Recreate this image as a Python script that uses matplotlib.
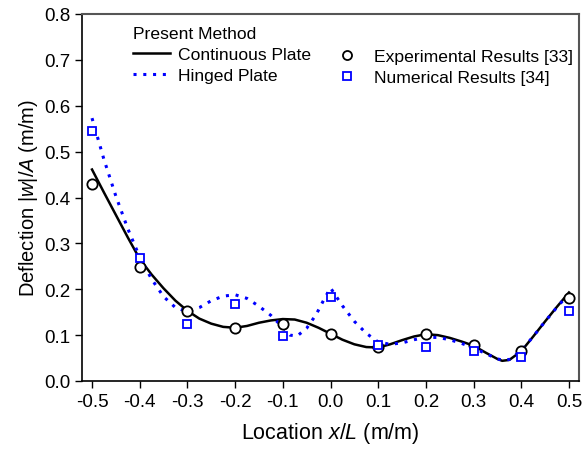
import matplotlib
matplotlib.use("Agg")
import matplotlib.pyplot as plt
from matplotlib.lines import Line2D

plt.rcParams['font.family'] = ['Liberation Sans', 'DejaVu Sans']
plt.rcParams['mathtext.fontset'] = 'custom'
plt.rcParams['mathtext.rm'] = 'Liberation Sans'
plt.rcParams['mathtext.it'] = 'Liberation Sans:italic'

# measured points
x_pts = [-0.5, -0.4, -0.3, -0.2, -0.1, 0.0, 0.1, 0.2, 0.3, 0.4, 0.5]
exp_vals = [0.430, 0.249, 0.153, 0.116, 0.124, 0.102, 0.074, 0.102, 0.078, 0.066, 0.181]
num_vals = [0.545, 0.268, 0.124, 0.168, 0.098, 0.183, 0.078, 0.074, 0.066, 0.052, 0.153]

# present method, continuous plate
cont_x = [-0.50, -0.475, -0.45, -0.425, -0.40, -0.375, -0.35, -0.325, -0.30, -0.275,
          -0.25, -0.225, -0.20, -0.175, -0.15, -0.125, -0.10, -0.075, -0.05, -0.025,
          0.0, 0.025, 0.05, 0.075, 0.10, 0.125, 0.15, 0.175, 0.20, 0.225,
          0.25, 0.275, 0.30, 0.325, 0.35, 0.36, 0.375, 0.40, 0.425, 0.45,
          0.475, 0.50]
cont_y = [0.461, 0.411, 0.362, 0.313, 0.266, 0.232, 0.202, 0.175, 0.153, 0.136,
          0.125, 0.118, 0.116, 0.120, 0.127, 0.132, 0.135, 0.134, 0.127, 0.116,
          0.103, 0.090, 0.080, 0.074, 0.073, 0.080, 0.089, 0.097, 0.102, 0.100,
          0.094, 0.086, 0.077, 0.062, 0.048, 0.044, 0.046, 0.065, 0.097, 0.130,
          0.162, 0.193]

# present method, hinged plate
hing_x = [-0.50, -0.475, -0.45, -0.425, -0.40, -0.375, -0.35, -0.325, -0.30, -0.275,
          -0.25, -0.225, -0.20, -0.175, -0.15, -0.125, -0.10, -0.085, -0.07, -0.05,
          -0.03, -0.015, 0.0, 0.025, 0.05, 0.075, 0.10, 0.125, 0.15, 0.175,
          0.20, 0.225, 0.25, 0.275, 0.30, 0.325, 0.35, 0.365, 0.375, 0.40,
          0.425, 0.45, 0.475, 0.50]
hing_y = [0.573, 0.483, 0.403, 0.332, 0.270, 0.222, 0.184, 0.160, 0.151, 0.160,
          0.175, 0.185, 0.188, 0.180, 0.163, 0.143, 0.117, 0.100, 0.098, 0.115,
          0.145, 0.175, 0.203, 0.164, 0.130, 0.104, 0.085, 0.080, 0.083, 0.090,
          0.095, 0.095, 0.090, 0.082, 0.072, 0.060, 0.048, 0.045, 0.047, 0.066,
          0.097, 0.130, 0.161, 0.190]

xticks = [-0.5, -0.4, -0.3, -0.2, -0.1, 0.0, 0.1, 0.2, 0.3, 0.4, 0.5]
yticks = [0.0, 0.1, 0.2, 0.3, 0.4, 0.5, 0.6, 0.7, 0.8]

blue = '#0000ff'
dots = (0, (1, 2.2))

fig = plt.figure(figsize=(5.84, 4.52), dpi=100)
ax = fig.add_axes([82/584, 1 - 382/452, 497/584, 367/452])

ax.plot(cont_x, cont_y, color='black', lw=1.8, zorder=3)
ax.plot(hing_x, hing_y, color=blue, lw=2.2, linestyle=dots, zorder=3)
ax.plot(x_pts, exp_vals, 'o', ms=7.4, mfc='white', mec='black', mew=1.3, zorder=5)
ax.plot(x_pts, num_vals, 's', ms=6.3, mfc='white', mec=blue, mew=1.3, zorder=5)

ax.set_xlim(-0.521, 0.521)
ax.set_ylim(0, 0.8)
ax.set_xticks(xticks)
ax.set_xticklabels(['%.1f' % v for v in xticks])
ax.set_yticks(yticks)
ax.set_yticklabels(['%.1f' % v for v in yticks])
ax.tick_params(direction='out', length=5, width=1, labelsize=13.5, color='black')
ax.tick_params(axis='x', pad=4)

for s in ['left', 'bottom']:
    ax.spines[s].set_color('black')
    ax.spines[s].set_linewidth(1.2)
for s in ['top', 'right']:
    ax.spines[s].set_color('#555555')
    ax.spines[s].set_linewidth(1.5)

ax.set_xlabel(r'Location $x/L$ (m/m)', fontsize=15.5, labelpad=7)
ax.set_ylabel(r'Deflection $|w|/A$ (m/m)', fontsize=14.5, labelpad=3)

h1 = [Line2D([], [], color='black', lw=1.8),
      Line2D([], [], color=blue, lw=2.2, linestyle=dots)]
leg1 = ax.legend(h1, ['Continuous Plate', 'Hinged Plate'], title='Present Method',
                 loc='upper left', bbox_to_anchor=(0.1026, 0.967), frameon=False,
                 fontsize=12.6, title_fontsize=12.6, alignment='left', borderpad=0,
                 borderaxespad=0, handlelength=2.1, handletextpad=0.45, labelspacing=0.32)
ax.add_artist(leg1)

h2 = [Line2D([], [], ls='none', marker='o', ms=6.5, mfc='white', mec='black', mew=1.3),
      Line2D([], [], ls='none', marker='s', ms=5.5, mfc='white', mec=blue, mew=1.3)]
ax.legend(h2, ['Experimental Results [33]', 'Numerical Results [34]'],
          loc='upper left', bbox_to_anchor=((329 - 82) / 497, 0.905), frameon=False,
          fontsize=12.6, borderpad=0, borderaxespad=0, handlelength=2,
          handletextpad=0.6, labelspacing=0.32)

plt.savefig('out.png', dpi=100)
